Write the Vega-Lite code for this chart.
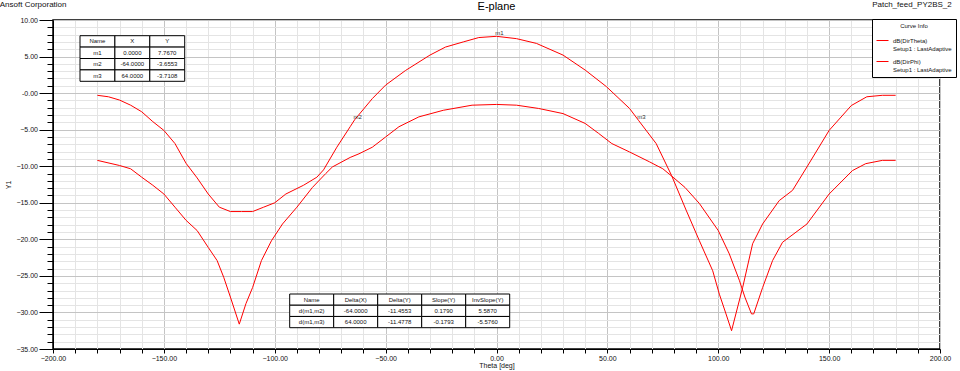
{
  "$schema": "https://vega.github.io/schema/vega-lite/v6.json",
  "width": 887,
  "height": 329,
  "autosize": "none",
  "padding": {"left": 53, "top": 20, "right": 20, "bottom": 22},
  "config": {
    "font": "Liberation Sans",
    "view": {"stroke": "#000", "strokeWidth": 1.5},
    "axis": {"labelFont": "Liberation Sans", "titleFont": "Liberation Sans", "labelColor": "#111", "titleColor": "#111", "domainColor": "#000", "tickColor": "#000"}
  },
  "datasets": {
    "curves": [
      {"s":"dB(DirTheta)","theta":-180,"db":-0.3},{"s":"dB(DirTheta)","theta":-175,"db":-0.5},{"s":"dB(DirTheta)","theta":-170,"db":-0.95},{"s":"dB(DirTheta)","theta":-165,"db":-1.65},{"s":"dB(DirTheta)","theta":-160,"db":-2.55},{"s":"dB(DirTheta)","theta":-155,"db":-3.9},{"s":"dB(DirTheta)","theta":-150,"db":-5.1},{"s":"dB(DirTheta)","theta":-145,"db":-6.9},{"s":"dB(DirTheta)","theta":-140,"db":-9.6},{"s":"dB(DirTheta)","theta":-135,"db":-11.6},{"s":"dB(DirTheta)","theta":-130,"db":-13.8},{"s":"dB(DirTheta)","theta":-125,"db":-15.6},{"s":"dB(DirTheta)","theta":-120,"db":-16.2},{"s":"dB(DirTheta)","theta":-115,"db":-16.2},{"s":"dB(DirTheta)","theta":-110,"db":-16.2},{"s":"dB(DirTheta)","theta":-105,"db":-15.6},{"s":"dB(DirTheta)","theta":-100,"db":-15.0},{"s":"dB(DirTheta)","theta":-95,"db":-13.8},{"s":"dB(DirTheta)","theta":-87,"db":-12.6},{"s":"dB(DirTheta)","theta":-81,"db":-11.5},{"s":"dB(DirTheta)","theta":-78,"db":-10.5},{"s":"dB(DirTheta)","theta":-72,"db":-7.4},{"s":"dB(DirTheta)","theta":-66,"db":-4.6},{"s":"dB(DirTheta)","theta":-64,"db":-3.66},{"s":"dB(DirTheta)","theta":-56,"db":-0.75},{"s":"dB(DirTheta)","theta":-50,"db":1.1},{"s":"dB(DirTheta)","theta":-41,"db":3.1},{"s":"dB(DirTheta)","theta":-30,"db":5.2},{"s":"dB(DirTheta)","theta":-23,"db":6.3},{"s":"dB(DirTheta)","theta":-15,"db":7.0},{"s":"dB(DirTheta)","theta":-8,"db":7.6},{"s":"dB(DirTheta)","theta":0,"db":7.767},{"s":"dB(DirTheta)","theta":9,"db":7.45},{"s":"dB(DirTheta)","theta":18,"db":6.8},{"s":"dB(DirTheta)","theta":30,"db":5.2},{"s":"dB(DirTheta)","theta":40,"db":3.15},{"s":"dB(DirTheta)","theta":49.5,"db":0.9},{"s":"dB(DirTheta)","theta":60,"db":-2.1},{"s":"dB(DirTheta)","theta":64,"db":-3.71},{"s":"dB(DirTheta)","theta":72,"db":-6.9},{"s":"dB(DirTheta)","theta":79,"db":-11.3},{"s":"dB(DirTheta)","theta":85.5,"db":-16.0},{"s":"dB(DirTheta)","theta":91.5,"db":-20.2},{"s":"dB(DirTheta)","theta":97.5,"db":-24.3},{"s":"dB(DirTheta)","theta":100.5,"db":-27.5},{"s":"dB(DirTheta)","theta":103.5,"db":-30.2},{"s":"dB(DirTheta)","theta":106,"db":-32.5},{"s":"dB(DirTheta)","theta":111,"db":-26.6},{"s":"dB(DirTheta)","theta":115.5,"db":-20.6},{"s":"dB(DirTheta)","theta":120,"db":-17.9},{"s":"dB(DirTheta)","theta":127.5,"db":-14.7},{"s":"dB(DirTheta)","theta":133.5,"db":-13.3},{"s":"dB(DirTheta)","theta":140,"db":-10.1},{"s":"dB(DirTheta)","theta":150,"db":-5.1},{"s":"dB(DirTheta)","theta":160,"db":-1.7},{"s":"dB(DirTheta)","theta":167,"db":-0.5},{"s":"dB(DirTheta)","theta":174,"db":-0.3},{"s":"dB(DirTheta)","theta":180,"db":-0.3},
      {"s":"dB(DirPhi)","theta":-180,"db":-9.2},{"s":"dB(DirPhi)","theta":-170,"db":-9.9},{"s":"dB(DirPhi)","theta":-165,"db":-10.35},{"s":"dB(DirPhi)","theta":-160,"db":-11.5},{"s":"dB(DirPhi)","theta":-155,"db":-12.6},{"s":"dB(DirPhi)","theta":-150,"db":-13.8},{"s":"dB(DirPhi)","theta":-145,"db":-15.6},{"s":"dB(DirPhi)","theta":-140,"db":-17.4},{"s":"dB(DirPhi)","theta":-135,"db":-18.8},{"s":"dB(DirPhi)","theta":-130,"db":-21.1},{"s":"dB(DirPhi)","theta":-126,"db":-22.9},{"s":"dB(DirPhi)","theta":-123,"db":-25.2},{"s":"dB(DirPhi)","theta":-120,"db":-27.9},{"s":"dB(DirPhi)","theta":-116,"db":-31.6},{"s":"dB(DirPhi)","theta":-113,"db":-28.8},{"s":"dB(DirPhi)","theta":-110,"db":-26.6},{"s":"dB(DirPhi)","theta":-106,"db":-22.9},{"s":"dB(DirPhi)","theta":-101.5,"db":-20.2},{"s":"dB(DirPhi)","theta":-96.5,"db":-17.9},{"s":"dB(DirPhi)","theta":-90,"db":-15.6},{"s":"dB(DirPhi)","theta":-83,"db":-12.9},{"s":"dB(DirPhi)","theta":-77,"db":-11.0},{"s":"dB(DirPhi)","theta":-74,"db":-10.1},{"s":"dB(DirPhi)","theta":-66,"db":-8.8},{"s":"dB(DirPhi)","theta":-62,"db":-8.3},{"s":"dB(DirPhi)","theta":-56,"db":-7.4},{"s":"dB(DirPhi)","theta":-50,"db":-6.0},{"s":"dB(DirPhi)","theta":-44,"db":-4.6},{"s":"dB(DirPhi)","theta":-35,"db":-3.25},{"s":"dB(DirPhi)","theta":-24,"db":-2.35},{"s":"dB(DirPhi)","theta":-11,"db":-1.65},{"s":"dB(DirPhi)","theta":0,"db":-1.55},{"s":"dB(DirPhi)","theta":9,"db":-1.65},{"s":"dB(DirPhi)","theta":19,"db":-2.1},{"s":"dB(DirPhi)","theta":30,"db":-2.8},{"s":"dB(DirPhi)","theta":40,"db":-4.15},{"s":"dB(DirPhi)","theta":46,"db":-5.5},{"s":"dB(DirPhi)","theta":52,"db":-6.9},{"s":"dB(DirPhi)","theta":60,"db":-8.05},{"s":"dB(DirPhi)","theta":69,"db":-9.4},{"s":"dB(DirPhi)","theta":75,"db":-10.35},{"s":"dB(DirPhi)","theta":79,"db":-11.35},{"s":"dB(DirPhi)","theta":85,"db":-12.9},{"s":"dB(DirPhi)","theta":91.5,"db":-15.1},{"s":"dB(DirPhi)","theta":100,"db":-18.8},{"s":"dB(DirPhi)","theta":105,"db":-22.0},{"s":"dB(DirPhi)","theta":109.5,"db":-25.6},{"s":"dB(DirPhi)","theta":112,"db":-27.9},{"s":"dB(DirPhi)","theta":115,"db":-30.2},{"s":"dB(DirPhi)","theta":116,"db":-30.2},{"s":"dB(DirPhi)","theta":120,"db":-26.6},{"s":"dB(DirPhi)","theta":124.5,"db":-22.9},{"s":"dB(DirPhi)","theta":129,"db":-20.4},{"s":"dB(DirPhi)","theta":140,"db":-17.9},{"s":"dB(DirPhi)","theta":150,"db":-13.8},{"s":"dB(DirPhi)","theta":160.5,"db":-10.6},{"s":"dB(DirPhi)","theta":166.5,"db":-9.65},{"s":"dB(DirPhi)","theta":174,"db":-9.2},{"s":"dB(DirPhi)","theta":180,"db":-9.2}
    ],
    "markers": [
      {"name":"m1","theta":0,"db":7.767},
      {"name":"m2","theta":-64,"db":-3.6553},
      {"name":"m3","theta":64,"db":-3.7108}
    ],
    "markerTable": [
      {"row":"hdr","col":"Name","text":"Name"},{"row":"hdr","col":"X","text":"X"},{"row":"hdr","col":"Y","text":"Y"},
      {"row":"m1","col":"Name","text":"m1"},{"row":"m1","col":"X","text":"0.0000"},{"row":"m1","col":"Y","text":"7.7670"},
      {"row":"m2","col":"Name","text":"m2"},{"row":"m2","col":"X","text":"-64.0000"},{"row":"m2","col":"Y","text":"-3.6553"},
      {"row":"m3","col":"Name","text":"m3"},{"row":"m3","col":"X","text":"64.0000"},{"row":"m3","col":"Y","text":"-3.7108"}
    ],
    "deltaTable": [
      {"row":"hdr","col":"Name","text":"Name"},{"row":"hdr","col":"Delta(X)","text":"Delta(X)"},{"row":"hdr","col":"Delta(Y)","text":"Delta(Y)"},{"row":"hdr","col":"Slope(Y)","text":"Slope(Y)"},{"row":"hdr","col":"InvSlope(Y)","text":"InvSlope(Y)"},
      {"row":"d1","col":"Name","text":"d(m1,m2)"},{"row":"d1","col":"Delta(X)","text":"-64.0000"},{"row":"d1","col":"Delta(Y)","text":"-11.4553"},{"row":"d1","col":"Slope(Y)","text":"0.1790"},{"row":"d1","col":"InvSlope(Y)","text":"5.5870"},
      {"row":"d2","col":"Name","text":"d(m1,m3)"},{"row":"d2","col":"Delta(X)","text":"64.0000"},{"row":"d2","col":"Delta(Y)","text":"-11.4778"},{"row":"d2","col":"Slope(Y)","text":"-0.1793"},{"row":"d2","col":"InvSlope(Y)","text":"-5.5760"}
    ],
    "headers": [{"left":"Ansoft Corporation","title":"E-plane","right":"Patch_feed_PY2BS_2"}]
  },
  "resolve": {"scale": {"x": "independent", "y": "independent"}},
  "layer": [
    {
      "layer": [
        {
          "data": {"name": "curves"},
          "mark": {"type": "line", "strokeWidth": 1, "interpolate": "linear"},
          "encoding": {
            "x": {"field": "theta", "type": "quantitative",
              "scale": {"domain": [-200, 200], "nice": false, "zero": false},
              "axis": {
                "values": [-200,-190,-180,-170,-160,-150,-140,-130,-120,-110,-100,-90,-80,-70,-60,-50,-40,-30,-20,-10,0,10,20,30,40,50,60,70,80,90,100,110,120,130,140,150,160,170,180,190,200],
                "tickCount": 100,
                "labelExpr": "datum.value % 50 === 0 ? format(datum.value, '.2f') : ''",
                "grid": true,
                "gridColor": {"condition": {"test": "datum.value % 50 === 0", "value": "#c4c4c4"}, "value": "#e4e4e4"},
                "gridWidth": 1,
                "tickSize": 4, "labelPadding": 1, "labelFontSize": 7, "labelFlush": false, "labelOverlap": false,
                "title": "Theta [deg]", "titleFontSize": 7, "titleFontWeight": "normal", "titlePadding": 0
              }
            },
            "y": {"field": "db", "type": "quantitative",
              "scale": {"domain": [-35, 10], "nice": false, "zero": false},
              "axis": {
                "values": [-35,-34,-33,-32,-31,-30,-29,-28,-27,-26,-25,-24,-23,-22,-21,-20,-19,-18,-17,-16,-15,-14,-13,-12,-11,-10,-9,-8,-7,-6,-5,-4,-3,-2,-1,0,1,2,3,4,5,6,7,8,9,10],
                "tickCount": 100,
                "labelExpr": "datum.value % 5 === 0 ? (datum.value === 0 ? '-0.00' : format(datum.value, '.2f')) : ''",
                "grid": true,
                "gridColor": {"condition": {"test": "datum.value % 5 === 0", "value": "#c4c4c4"}, "value": "#e4e4e4"},
                "gridWidth": 1,
                "tickSize": {"condition": {"test": "datum.value % 5 === 0", "value": 14}, "value": 6},
                "labelPadding": 1.5, "labelFontSize": 7, "labelFlush": false, "labelOverlap": false,
                "title": "Y1", "titleFontSize": 7, "titleFontWeight": "normal", "titlePadding": 4
              }
            },
            "color": {"field": "s", "type": "nominal",
              "scale": {"domain": ["dB(DirTheta)", "dB(DirPhi)"], "range": ["#ff0000", "#ff0000"]},
              "legend": {
                "orient": "none", "legendX": 819, "legendY": -1,
                "title": "Curve Info", "titleFontSize": 6, "titleFontWeight": "normal", "titleAnchor": "middle", "titleColor": "#111", "titlePadding": 5,
                "labelFontSize": 6, "labelColor": "#111", "labelExpr": "[datum.label, 'Setup1 : LastAdaptive']", "labelLimit": 200,
                "symbolType": "stroke", "symbolStrokeWidth": 1, "symbolSize": 144, "symbolOffset": 0,
                "strokeColor": "#000", "fillColor": "#fff", "padding": 4, "rowPadding": 3, "offset": 0
              }
            }
          }
        },
        {
          "data": {"name": "markers"},
          "mark": {"type": "text", "fontSize": 6, "color": "#333", "align": "center", "baseline": "bottom", "dx": 3, "dy": 0},
          "encoding": {
            "x": {"field": "theta", "type": "quantitative"},
            "y": {"field": "db", "type": "quantitative"},
            "text": {"field": "name"}
          }
        },
        {
          "data": {"name": "headers"},
          "mark": {"type": "text", "fontSize": 8, "color": "#111", "align": "left", "baseline": "alphabetic"},
          "encoding": {
            "x": {"datum": -224},
            "y": {"datum": 11.75},
            "text": {"field": "left"}
          }
        },
        {
          "data": {"name": "headers"},
          "mark": {"type": "text", "fontSize": 11, "color": "#000", "align": "center", "baseline": "alphabetic"},
          "encoding": {
            "x": {"datum": 0},
            "y": {"datum": 11.35},
            "text": {"field": "title"}
          }
        },
        {
          "data": {"name": "headers"},
          "mark": {"type": "text", "fontSize": 8, "color": "#111", "align": "right", "baseline": "alphabetic"},
          "encoding": {
            "x": {"datum": 205.3},
            "y": {"datum": 11.75},
            "text": {"field": "right"}
          }
        }
      ]
    },
    {
      "data": {"name": "markerTable"},
      "encoding": {
        "x": {"field": "col", "type": "nominal", "axis": null,
          "scale": {"type": "band", "domain": ["Name", "X", "Y"], "range": [27, 131.7], "paddingInner": 0, "paddingOuter": 0}},
        "y": {"field": "row", "type": "nominal", "axis": null,
          "scale": {"type": "band", "domain": ["hdr", "m1", "m2", "m3"], "range": [15.7, 61.3], "paddingInner": 0, "paddingOuter": 0}}
      },
      "layer": [
        {"mark": {"type": "rect", "fill": "#fff", "stroke": "#000", "strokeWidth": 1}},
        {"mark": {"type": "text", "fontSize": 6, "color": "#111", "align": "center", "baseline": "middle"}, "encoding": {"text": {"field": "text"}}}
      ]
    },
    {
      "data": {"name": "deltaTable"},
      "encoding": {
        "x": {"field": "col", "type": "nominal", "axis": null,
          "scale": {"type": "band", "domain": ["Name", "Delta(X)", "Delta(Y)", "Slope(Y)", "InvSlope(Y)"], "range": [236.7, 456.7], "paddingInner": 0, "paddingOuter": 0}},
        "y": {"field": "row", "type": "nominal", "axis": null,
          "scale": {"type": "band", "domain": ["hdr", "d1", "d2"], "range": [274, 307.7], "paddingInner": 0, "paddingOuter": 0}}
      },
      "layer": [
        {"mark": {"type": "rect", "fill": "#fff", "stroke": "#000", "strokeWidth": 1}},
        {"mark": {"type": "text", "fontSize": 6, "color": "#111", "align": "center", "baseline": "middle"}, "encoding": {"text": {"field": "text"}}}
      ]
    }
  ]
}
